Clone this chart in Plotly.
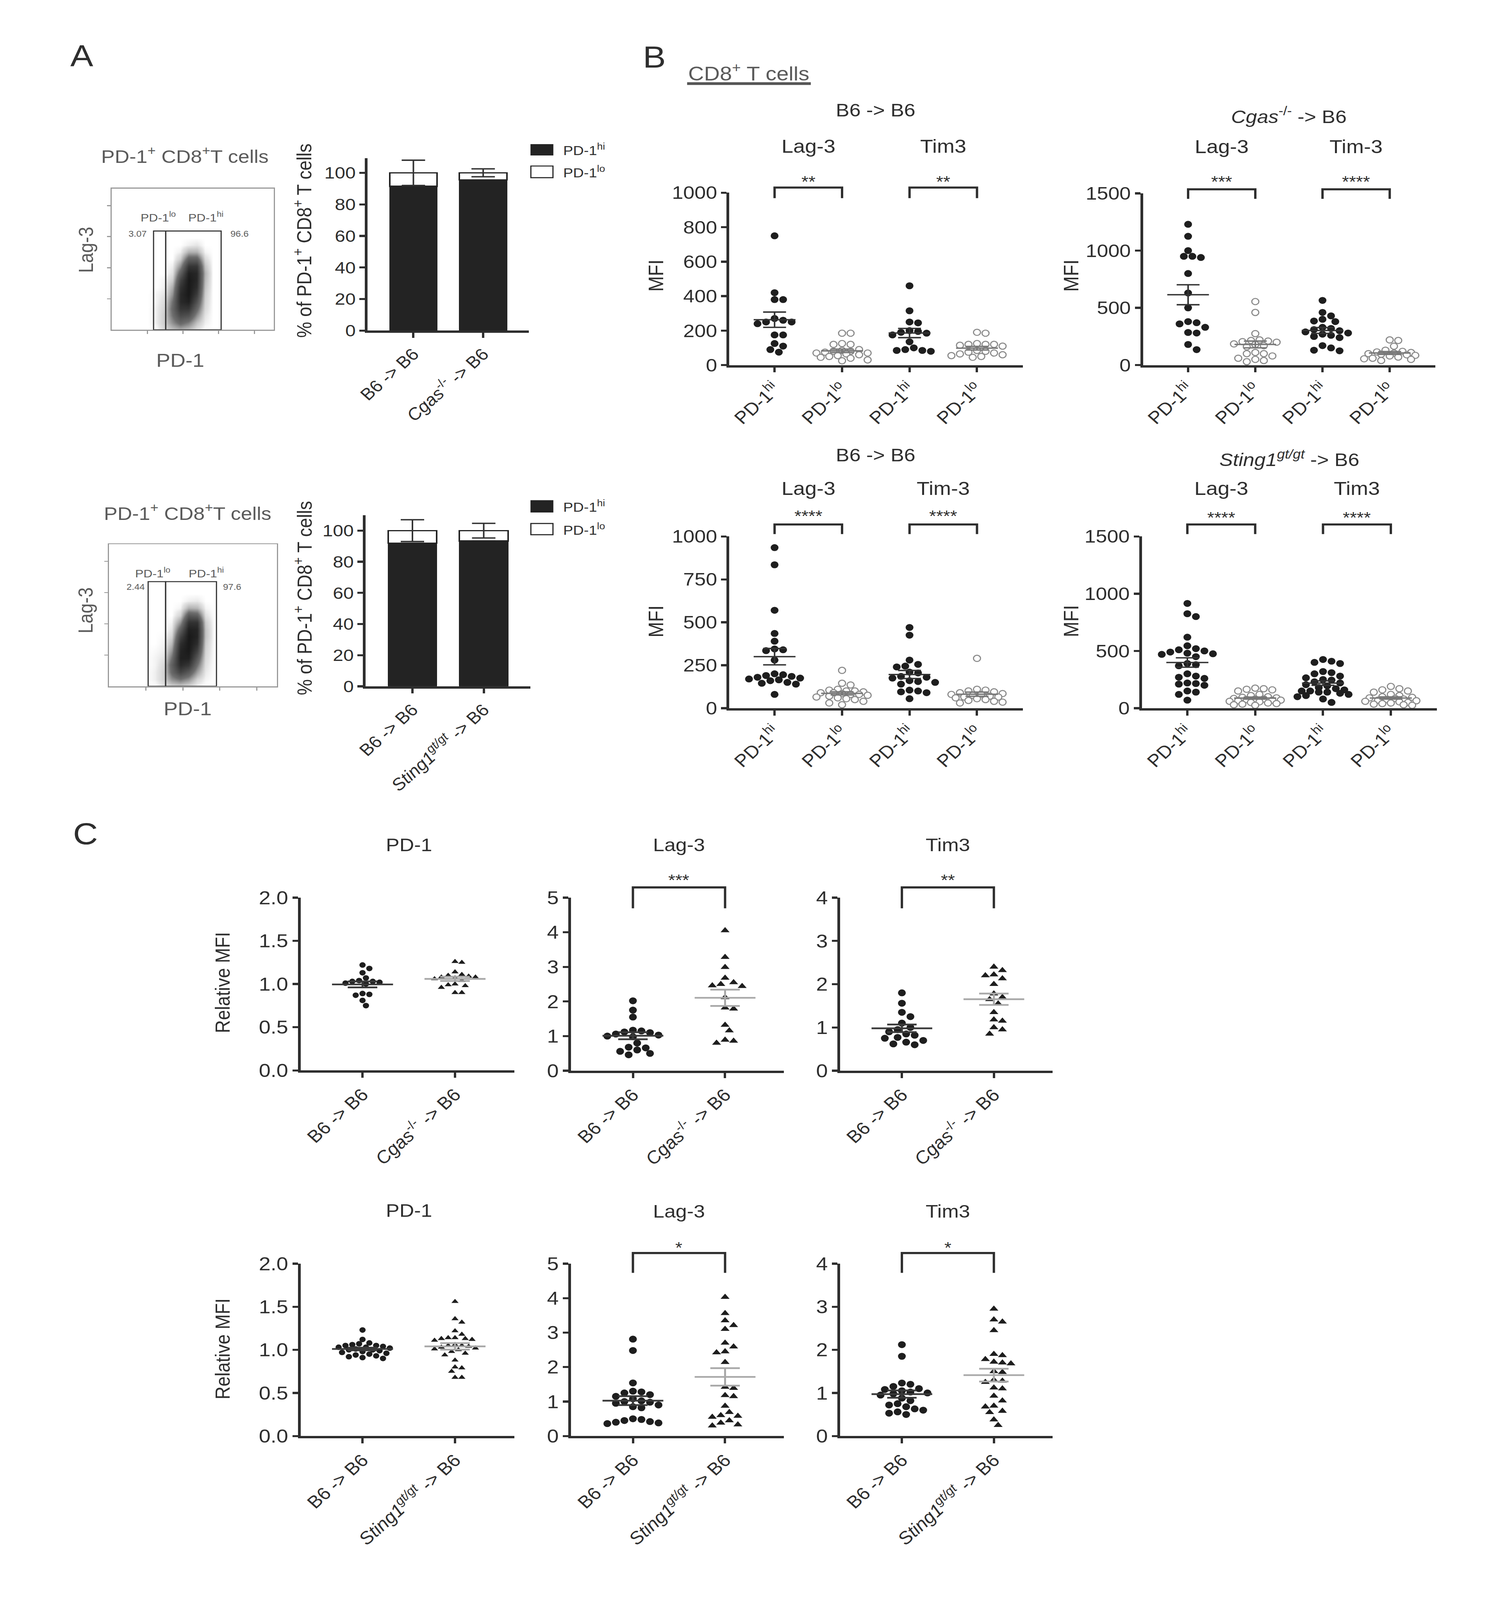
import numpy as np
import plotly.graph_objects as go

W, H = 3838, 4617
FONT = "Liberation Sans, Arial, Helvetica, sans-serif"
TXT = "#2e2e2e"
GTXT = "#5a5a5a"
LINE = "#2e2e2e"

# ------------------------------------------------------------------ data
# Panel A: stacked bars (% of PD-1+ CD8+ T cells)
a_top_groups = ["B6 -> B6", "<i>Cgas</i><sup>-/-</sup> -> B6"]
a_top_hi = [91.5, 95.5]
a_top_lo = [8.5, 4.5]
a_top_err = [8.0, 2.5]
a_bot_groups = ["B6 -> B6", "<i>Sting1</i><sup><i>gt/gt</i></sup> -> B6"]
a_bot_hi = [92.0, 93.3]
a_bot_lo = [8.0, 6.7]
a_bot_err = [7.0, 4.7]
a_ticks = [0, 20, 40, 60, 80, 100]

# Panel A: representative flow plots (density read by eye on a coarse grid)
flow_x = [0.225, 0.275, 0.325, 0.375, 0.425, 0.475, 0.525, 0.575, 0.625, 0.675]
flow_y = [0.0, 0.05, 0.10, 0.15, 0.20, 0.25, 0.30, 0.35, 0.40, 0.45, 0.50, 0.55, 0.60, 0.65]
flow1_density = [
    [0, 0.00, 0.08, 0.15, 0.20, 0.15, 0.05, 0.00, 0, 0],
    [0, 0.03, 0.12, 0.30, 0.45, 0.35, 0.15, 0.03, 0, 0],
    [0, 0.03, 0.12, 0.40, 0.65, 0.60, 0.30, 0.05, 0, 0],
    [0, 0.03, 0.10, 0.45, 0.80, 0.80, 0.45, 0.08, 0, 0],
    [0, 0.02, 0.08, 0.40, 0.88, 0.95, 0.60, 0.10, 0, 0],
    [0, 0.02, 0.05, 0.30, 0.88, 1.00, 0.75, 0.12, 0, 0],
    [0, 0.00, 0.03, 0.22, 0.82, 1.00, 0.85, 0.15, 0, 0],
    [0, 0.00, 0.02, 0.12, 0.70, 1.00, 0.90, 0.18, 0, 0],
    [0, 0.00, 0.00, 0.06, 0.50, 0.95, 0.90, 0.20, 0, 0],
    [0, 0.00, 0.00, 0.03, 0.30, 0.80, 0.80, 0.15, 0, 0],
    [0, 0.00, 0.00, 0.00, 0.12, 0.50, 0.50, 0.08, 0, 0],
    [0, 0.00, 0.00, 0.00, 0.03, 0.20, 0.20, 0.02, 0, 0],
    [0, 0.00, 0.00, 0.00, 0.00, 0.03, 0.05, 0.00, 0, 0],
    [0, 0, 0, 0, 0, 0, 0, 0, 0, 0],
]
flow2_density = [
    [0, 0.00, 0.05, 0.10, 0.12, 0.08, 0.02, 0.00, 0, 0],
    [0, 0.03, 0.10, 0.30, 0.40, 0.30, 0.10, 0.02, 0, 0],
    [0, 0.03, 0.10, 0.45, 0.70, 0.55, 0.25, 0.04, 0, 0],
    [0, 0.02, 0.08, 0.50, 0.88, 0.80, 0.40, 0.06, 0, 0],
    [0, 0.02, 0.05, 0.40, 0.95, 0.95, 0.55, 0.08, 0, 0],
    [0, 0.01, 0.03, 0.28, 0.92, 1.00, 0.72, 0.10, 0, 0],
    [0, 0.00, 0.02, 0.18, 0.85, 1.00, 0.85, 0.12, 0, 0],
    [0, 0.00, 0.01, 0.10, 0.70, 1.00, 0.92, 0.15, 0, 0],
    [0, 0.00, 0.00, 0.05, 0.50, 0.95, 0.92, 0.15, 0, 0],
    [0, 0.00, 0.00, 0.02, 0.28, 0.82, 0.82, 0.12, 0, 0],
    [0, 0.00, 0.00, 0.00, 0.10, 0.55, 0.50, 0.06, 0, 0],
    [0, 0.00, 0.00, 0.00, 0.02, 0.20, 0.18, 0.02, 0, 0],
    [0, 0.00, 0.00, 0.00, 0.00, 0.03, 0.04, 0.00, 0, 0],
    [0, 0, 0, 0, 0, 0, 0, 0, 0, 0],
]
flow1_gates = [0.258, 0.333, 0.675]
flow1_gate_top = 0.70
flow1_pct = ["3.07", "96.6"]
flow2_gates = [0.233, 0.337, 0.640]
flow2_gate_top = 0.737
flow2_pct = ["2.44", "97.6"]
flow_ticks = [0.22, 0.44, 0.66, 0.88]

# Panel B: MFI of Lag-3 / Tim-3 on PD-1hi vs PD-1lo CD8+ T cells
b_categories = ["PD-1<sup>hi</sup>", "PD-1<sup>lo</sup>", "PD-1<sup>hi</sup>", "PD-1<sup>lo</sup>"]
b1_lag_hi = [750, 420, 380, 380, 270, 260, 250, 250, 240, 175, 175, 125, 110, 90, 75]
b1_lag_lo = [185, 185, 125, 120, 120, 90, 85, 80, 80, 75, 70, 70, 65, 60, 55, 50, 45, 40, 30, 25]
b1_tim_hi = [460, 315, 250, 245, 200, 195, 190, 185, 175, 135, 100, 90, 85, 85, 80]
b1_tim_lo = [190, 185, 125, 120, 120, 120, 115, 110, 85, 80, 75, 70, 65, 60, 55, 50, 45]

b2_lag_hi = [1230, 1125, 1000, 950, 950, 940, 800, 630, 500, 380, 370, 360, 330, 285, 280, 180, 135]
b2_lag_lo = [555, 460, 275, 220, 215, 210, 205, 200, 185, 180, 170, 160, 110, 100, 100, 80, 60, 50, 40, 30]
b2_tim_hi = [565, 460, 430, 400, 385, 380, 330, 320, 310, 300, 290, 280, 270, 260, 250, 240, 170, 150, 130, 125]
b2_tim_lo = [220, 215, 165, 130, 120, 115, 110, 105, 100, 95, 90, 85, 80, 70, 60, 55, 50, 40]

b3_lag_hi = [935, 835, 570, 435, 390, 345, 340, 335, 280, 200, 195, 190, 185, 180, 175, 170, 165, 160, 150, 145, 140, 80]
b3_lag_lo = [220, 145, 135, 110, 105, 100, 100, 95, 90, 90, 85, 80, 80, 75, 70, 65, 60, 55, 50, 40, 30, 20]
b3_tim_hi = [470, 425, 280, 255, 245, 240, 210, 205, 185, 180, 175, 160, 155, 150, 140, 105, 100, 95, 90, 55]
b3_tim_lo = [290, 110, 105, 100, 95, 90, 85, 80, 80, 75, 70, 65, 65, 60, 55, 50, 45, 40, 35, 30]

b4_lag_hi = [915, 825, 800, 620, 545, 520, 510, 500, 490, 480, 475, 470, 450, 390, 380, 370, 300, 280,
             270, 260, 220, 215, 210, 200, 150, 140, 120, 70]
b4_lag_lo = [175, 170, 165, 160, 150, 120, 110, 100, 95, 90, 85, 80, 80, 75, 70, 70, 65, 60, 55, 50,
             45, 40, 35, 30, 25]
b4_tim_hi = [425, 410, 400, 390, 320, 310, 300, 280, 265, 250, 245, 230, 220, 205, 195, 180, 170, 160,
             150, 150, 140, 140, 130, 120, 110, 100, 80, 50]
b4_tim_lo = [190, 170, 160, 150, 140, 120, 110, 100, 95, 90, 85, 80, 75, 70, 65, 60, 55, 50, 45, 40, 35, 30, 25]

b_ticks_200 = [0, 200, 400, 600, 800, 1000]
b_ticks_250 = [0, 250, 500, 750, 1000]
b_ticks_500 = [0, 500, 1000, 1500]

# Panel C: relative MFI
c_top_groups = ["B6 -> B6", "<i>Cgas</i><sup>-/-</sup> -> B6"]
c_bot_groups = ["B6 -> B6", "<i>Sting1</i><sup><i>gt/gt</i></sup> -> B6"]
c1_pd1_b6 = [1.22, 1.18, 1.13, 1.07, 1.04, 1.03, 1.03, 1.02, 1.01, 1.0, 0.89, 0.88, 0.87, 0.81, 0.75]
c1_pd1_ko = [1.26, 1.25, 1.14, 1.11, 1.10, 1.09, 1.08, 1.08, 1.07, 1.06, 1.04, 1.0, 0.99, 0.98, 0.96, 0.9, 0.9]
c1_lag_b6 = [2.02, 1.75, 1.55, 1.17, 1.15, 1.12, 1.1, 1.06, 1.03, 1.0, 0.98, 0.8, 0.68, 0.66, 0.6, 0.56, 0.5, 0.46]
c1_lag_ko = [4.05, 3.28, 2.99, 2.68, 2.55, 2.46, 2.44, 2.5, 2.12, 1.79, 1.82, 1.32, 1.16, 0.89, 0.86, 0.8]
c1_tim_b6 = [1.8, 1.56, 1.35, 1.25, 1.1, 1.0, 0.95, 0.9, 0.85, 0.82, 0.77, 0.75, 0.7, 0.66, 0.62, 0.6]
c1_tim_ko = [2.4, 2.32, 2.22, 2.2, 2.13, 2.0, 1.78, 1.7, 1.65, 1.55, 1.35, 1.18, 1.15, 1.0, 0.95, 0.85]

c2_pd1_b6 = [1.23, 1.12, 1.08, 1.07, 1.06, 1.05, 1.05, 1.04, 1.03, 1.03, 1.02, 1.01, 1.0, 1.0, 0.99, 0.98,
             0.97, 0.96, 0.95, 0.94, 0.93, 0.92, 0.91, 0.9]
c2_pd1_ko = [1.56, 1.36, 1.32, 1.22, 1.18, 1.14, 1.14, 1.13, 1.13, 1.12, 1.11, 1.06, 1.05, 1.05, 1.04, 1.03,
             1.02, 1.01, 1.0, 0.98, 0.96, 0.94, 0.88, 0.8, 0.79, 0.75, 0.68, 0.68]
c2_lag_b6 = [2.81, 2.48, 1.54, 1.3, 1.28, 1.25, 1.2, 1.15, 1.08, 1.02, 1.0, 0.98, 0.95, 0.9, 0.85, 0.82,
             0.5, 0.48, 0.45, 0.42, 0.4, 0.38, 0.36]
c2_lag_ko = [4.03, 3.56, 3.35, 3.21, 3.1, 2.7, 2.59, 2.45, 2.42, 2.14, 1.42, 1.39, 1.18, 1.15, 0.87, 0.69,
             0.6, 0.58, 0.55, 0.45, 0.38, 0.33, 0.3]
c2_tim_b6 = [2.12, 1.85, 1.23, 1.2, 1.15, 1.1, 1.08, 1.05, 1.02, 1.0, 0.98, 0.95, 0.88, 0.82, 0.75, 0.72,
             0.68, 0.63, 0.6, 0.56, 0.53, 0.5]
c2_tim_ko = [2.95, 2.7, 2.65, 2.45, 1.9, 1.87, 1.78, 1.72, 1.7, 1.68, 1.5, 1.48, 1.3, 1.28, 1.25, 1.12,
             1.1, 0.93, 0.82, 0.7, 0.68, 0.58, 0.55, 0.38, 0.25]

c_ticks_pd1 = [0, 0.5, 1.0, 1.5, 2.0]
c_ticks_pd1_text = ["0.0", "0.5", "1.0", "1.5", "2.0"]
c_ticks_5 = [0, 1, 2, 3, 4, 5]
c_ticks_4 = [0, 1, 2, 3, 4]

# ------------------------------------------------------------------ helpers
fig = go.Figure()
layout = dict(width=W, height=H, margin=dict(l=0, r=0, t=0, b=0), paper_bgcolor="white",
              plot_bgcolor="rgba(0,0,0,0)", showlegend=False, barmode="stack",
              font=dict(family=FONT, color=TXT))
annotations = []
shapes = []


def px(x):
    return x / W


def py(y):
    return 1 - y / H


def refs(i):
    return ("x" if i == 1 else f"x{i}"), ("y" if i == 1 else f"y{i}")


def keys(i):
    return ("xaxis" if i == 1 else f"xaxis{i}"), ("yaxis" if i == 1 else f"yaxis{i}")


AX = dict(showline=True, linecolor=LINE, linewidth=7, ticks="outside", ticklen=14, tickwidth=6,
          tickcolor=LINE, showgrid=False, zeroline=False, fixedrange=True)


def make_axes(i, x0, x1, ytop, ybot, xr, yr, xvals, xtext, yvals, ytext, xsize=50, ysize=52):
    xk, yk = keys(i)
    xa, ya = refs(i)
    layout[xk] = dict(AX, domain=[px(x0), px(x1)], range=xr, anchor=ya, tickmode="array",
                      tickvals=xvals, ticktext=xtext, tickangle=-45,
                      tickfont=dict(size=xsize, color=TXT, family=FONT))
    layout[yk] = dict(AX, domain=[py(ybot), py(ytop)], range=yr, anchor=xa, tickmode="array",
                      tickvals=yvals, ticktext=ytext,
                      tickfont=dict(size=ysize, color=TXT, family=FONT))


def ann(text, x, y, size, xref="paper", yref="paper", angle=0, xanchor="center",
        yanchor="middle", color=TXT):
    annotations.append(dict(text=text, x=x, y=y, xref=xref, yref=yref, showarrow=False,
                            textangle=angle, xanchor=xanchor, yanchor=yanchor,
                            font=dict(size=size, color=color, family=FONT)))


def swarm(vals, center, pxx, pxy, diam, maxw):
    v = np.asarray(vals, float)
    order = np.argsort(-v, kind="stable")
    placed = []
    xs = np.empty(len(v))
    step = diam * 0.55
    cands = [0.0]
    for k in range(1, 60):
        cands += [k * step, -k * step]
    cands = [c for c in cands if abs(c) <= maxw]
    for i in order:
        yp = v[i] * pxy
        chosen = None
        for c in cands:
            if all((c - a) ** 2 + (yp - b) ** 2 >= (0.95 * diam) ** 2 for a, b in placed):
                chosen = c
                break
        if chosen is None:
            chosen = max(cands, key=lambda c: min((c - a) ** 2 + (yp - b) ** 2 for a, b in placed))
        placed.append((chosen, yp))
        xs[i] = center + chosen / pxx
    return xs


def mean_sem(vals, c, hm, hs):
    v = np.asarray(vals, float)
    m = v.mean()
    s = v.std(ddof=1) / np.sqrt(len(v))
    xs = [c - hm, c + hm, None, c - hs, c + hs, None, c - hs, c + hs, None, c, c]
    ys = [m, m, None, m + s, m + s, None, m - s, m - s, None, m - s, m + s]
    return xs, ys


def bracket(xref, a, b, y_bar, y_leg):
    shapes.append(dict(type="path", xref=xref, yref="paper",
                       path=f"M {a},{py(y_leg)} L {a},{py(y_bar)} L {b},{py(y_bar)} L {b},{py(y_leg)}",
                       line=dict(color=LINE, width=6)))


# ------------------------------------------------------------------ panel A
ann("A", px(183), py(133), 88)

flows = [
    dict(i=1, x0=260, x1=678, ytop=521, ybot=934, dens=flow1_density, gates=flow1_gates,
         top=flow1_gate_top, pct=flow1_pct, title=(449, 423), lag=(193, 700), pd1=(437, 1023),
         lab_x=(0.287, 0.58), pct_x=(0.16, 0.79), pct_y=0.68),
    dict(i=3, x0=253, x1=686, ytop=1561, ybot=1976, dens=flow2_density, gates=flow2_gates,
         top=flow2_gate_top, pct=flow2_pct, title=(456, 1467), lag=(193, 1754), pd1=(456, 2042),
         lab_x=(0.26, 0.58), pct_x=(0.16, 0.734), pct_y=0.70),
]
FAX = dict(showline=True, mirror=True, linecolor="#9a9a9a", linewidth=3, ticks="outside", ticklen=9,
           tickwidth=3, tickcolor="#9a9a9a", showgrid=False, zeroline=False, showticklabels=False,
           fixedrange=True, tickmode="array", tickvals=flow_ticks)
for f in flows:
    xk, yk = keys(f["i"])
    xa, ya = refs(f["i"])
    layout[xk] = dict(FAX, domain=[px(f["x0"]), px(f["x1"])], range=[0, 1], anchor=ya)
    layout[yk] = dict(FAX, domain=[py(f["ybot"]), py(f["ytop"])], range=[0, 1], anchor=xa)
    fig.add_trace(go.Heatmap(x=flow_x, y=flow_y, z=f["dens"], xaxis=xa, yaxis=ya, zmin=0, zmax=1,
                             zsmooth="best", showscale=False, hoverinfo="skip",
                             colorscale=[[0, "white"], [0.05, "rgb(228,228,228)"],
                                         [0.4, "rgb(110,110,110)"], [1, "rgb(25,25,25)"]]))
    g = f["gates"]
    for a, b in ((g[0], g[1]), (g[1], g[2])):
        shapes.append(dict(type="rect", xref=xa, yref=ya, x0=a, x1=b, y0=0, y1=f["top"],
                           line=dict(color="#333", width=3)))
    ann("PD-1<sup>lo</sup>", f["lab_x"][0], 0.80, 32, xref=xa, yref=ya, color=GTXT)
    ann("PD-1<sup>hi</sup>", f["lab_x"][1], 0.80, 32, xref=xa, yref=ya, color=GTXT)
    ann(f["pct"][0], f["pct_x"][0], f["pct_y"], 24, xref=xa, yref=ya, color=GTXT)
    ann(f["pct"][1], f["pct_x"][1], f["pct_y"], 24, xref=xa, yref=ya, color=GTXT)
    ann("PD-1<sup>+</sup> CD8<sup>+</sup>T cells", px(f["title"][0]), py(f["title"][1]), 52, color=GTXT)
    ann("Lag-3", px(f["lag"][0]), py(f["lag"][1]), 52, angle=-90, color=GTXT)
    ann("PD-1", px(f["pd1"][0]), py(f["pd1"][1]), 54, color=GTXT)

bars = [
    dict(i=2, x0=920, x1=1336, ytop=432, ybot=936, ymax=109.3, groups=a_top_groups, hi=a_top_hi,
         lo=a_top_lo, err=a_top_err, ytitle=(753, 673), leg=(392, 423, 455, 489)),
    dict(i=4, x0=915, x1=1340, ytop=1476, ybot=1976, ymax=109.9, groups=a_bot_groups, hi=a_bot_hi,
         lo=a_bot_lo, err=a_bot_err, ytitle=(753, 1718), leg=(1433, 1467, 1500, 1533)),
]
for bdef in bars:
    xa, ya = refs(bdef["i"])
    make_axes(bdef["i"], bdef["x0"], bdef["x1"], bdef["ytop"], bdef["ybot"], [-0.656, 1.656],
              [0, bdef["ymax"]], [0, 1], bdef["groups"], a_ticks, [str(t) for t in a_ticks],
              xsize=48, ysize=48)
    fig.add_trace(go.Bar(x=[0, 1], y=bdef["hi"], width=0.68, xaxis=xa, yaxis=ya, hoverinfo="skip",
                         marker=dict(color="#232323", line=dict(color="#232323", width=2))))
    fig.add_trace(go.Bar(x=[0, 1], y=bdef["lo"], width=0.68, xaxis=xa, yaxis=ya, hoverinfo="skip",
                         marker=dict(color="white", line=dict(color="#232323", width=4))))
    fig.add_trace(go.Scatter(x=[0, 1], y=list(np.add(bdef["hi"], bdef["lo"])), mode="markers",
                             xaxis=xa, yaxis=ya, cliponaxis=False, hoverinfo="skip",
                             marker=dict(size=1, color="rgba(0,0,0,0)"),
                             error_y=dict(type="data", array=bdef["err"], color="#333",
                                          thickness=4, width=30)))
    ann("% of PD-1<sup>+</sup> CD8<sup>+</sup> T cells", px(bdef["ytitle"][0]), py(bdef["ytitle"][1]),
        52, angle=-90)
    l = bdef["leg"]
    shapes.append(dict(type="rect", xref="paper", yref="paper", x0=px(1341), x1=px(1398),
                       y0=py(l[1]), y1=py(l[0]), fillcolor="#232323", line=dict(color="#232323", width=2)))
    shapes.append(dict(type="rect", xref="paper", yref="paper", x0=px(1341), x1=px(1398),
                       y0=py(l[3]), y1=py(l[2]), fillcolor="white", line=dict(color="#232323", width=3)))
    ann("PD-1<sup>hi</sup>", px(1422), py((l[0] + l[1]) / 2), 38, xanchor="left")
    ann("PD-1<sup>lo</sup>", px(1422), py((l[2] + l[3]) / 2), 38, xanchor="left")

# ------------------------------------------------------------------ panel B
ann("B", px(1660), py(136), 88)
ann("CD8<sup>+</sup> T cells", px(1903), py(182), 56, color=GTXT)
shapes.append(dict(type="line", xref="paper", yref="paper", x0=px(1744), x1=px(2063), y0=py(214),
                   y1=py(214), line=dict(color="#555", width=8)))

b_panels = [
    dict(i=5, x0=1853, x1=2610, ytop=533, ybot=1037, ymax=1000, ticks=b_ticks_200,
         groups=[b1_lag_hi, b1_lag_lo, b1_tim_hi, b1_tim_lo], title="B6 -> B6", t_py=292,
         subs=["Lag-3", "Tim3"], s_py=397, stars=["**", "**"], st_py=500, br=518, lg=549, mfi=(1663, 775)),
    dict(i=6, x0=2920, x1=3674, ytop=535, ybot=1037, ymax=1500, ticks=b_ticks_500,
         groups=[b2_lag_hi, b2_lag_lo, b2_tim_hi, b2_tim_lo], title="<i>Cgas</i><sup>-/-</sup> -> B6",
         t_py=307, subs=["Lag-3", "Tim-3"], s_py=398, stars=["***", "****"], st_py=500, br=523, lg=551,
         mfi=(2734, 776)),
    dict(i=7, x0=1853, x1=2610, ytop=1538, ybot=2040, ymax=1000, ticks=b_ticks_250,
         groups=[b3_lag_hi, b3_lag_lo, b3_tim_hi, b3_tim_lo], title="B6 -> B6", t_py=1300,
         subs=["Lag-3", "Tim-3"], s_py=1397, stars=["****", "****"], st_py=1478, br=1503, lg=1531,
         mfi=(1663, 1786)),
    dict(i=8, x0=2917, x1=3678, ytop=1538, ybot=2040, ymax=1500, ticks=b_ticks_500,
         groups=[b4_lag_hi, b4_lag_lo, b4_tim_hi, b4_tim_lo],
         title="<i>Sting1</i><sup><i>gt/gt</i></sup> -> B6", t_py=1310, subs=["Lag-3", "Tim3"],
         s_py=1397, stars=["****", "****"], st_py=1482, br=1503, lg=1531, mfi=(2734, 1786)),
]
B_XR = [-0.67, 3.68]
BMS = 20
for p in b_panels:
    xa, ya = refs(p["i"])
    make_axes(p["i"], p["x0"], p["x1"], p["ytop"], p["ybot"], B_XR, [0, p["ymax"]], [0, 1, 2, 3],
              b_categories, p["ticks"], [str(t) for t in p["ticks"]])
    pxx = (p["x1"] - p["x0"]) / (B_XR[1] - B_XR[0])
    pxy = (p["ybot"] - p["ytop"]) / p["ymax"]
    for gi, vals in enumerate(p["groups"]):
        xs = swarm(vals, gi, pxx, pxy, BMS, 0.42 * pxx)
        if gi % 2 == 0:
            mk = dict(size=BMS, color="#1e1e1e", line=dict(width=0))
        else:
            mk = dict(size=BMS - 2, color="white", line=dict(color="#8a8a8a", width=3))
        fig.add_trace(go.Scatter(x=xs, y=vals, mode="markers", marker=mk, xaxis=xa, yaxis=ya,
                                 cliponaxis=False, hoverinfo="skip"))
    for gi, vals in enumerate(p["groups"]):
        mx, my = mean_sem(vals, gi, 0.31, 0.17)
        fig.add_trace(go.Scatter(x=mx, y=my, mode="lines", xaxis=xa, yaxis=ya, cliponaxis=False,
                                 hoverinfo="skip",
                                 line=dict(color="#333" if gi % 2 == 0 else "#777", width=4)))
    ann(p["title"], 1.5, py(p["t_py"]), 52, xref=xa)
    ann(p["subs"][0], 0.5, py(p["s_py"]), 54, xref=xa)
    ann(p["subs"][1], 2.5, py(p["s_py"]), 54, xref=xa)
    ann(p["stars"][0], 0.5, py(p["st_py"]), 46, xref=xa)
    ann(p["stars"][1], 2.5, py(p["st_py"]), 46, xref=xa)
    bracket(xa, 0, 1, p["br"], p["lg"])
    bracket(xa, 2, 3, p["br"], p["lg"])
    ann("MFI", px(p["mfi"][0]), py(p["mfi"][1]), 54, angle=-90)

# ------------------------------------------------------------------ panel C
ann("C", px(192), py(2407), 88)
c_panels = [
    dict(i=9, x0=747, x1=1298, ytop=2594, ybot=3099, ymax=2.0, ticks=c_ticks_pd1, ttext=c_ticks_pd1_text,
         groups=[c1_pd1_b6, c1_pd1_ko], cats=c_top_groups, title="PD-1", t_py=2440, star=None, ms=16),
    dict(i=10, x0=1445, x1=1994, ytop=2594, ybot=3100, ymax=5, ticks=c_ticks_5,
         ttext=[str(t) for t in c_ticks_5], groups=[c1_lag_b6, c1_lag_ko], cats=c_top_groups,
         title="Lag-3", t_py=2440, star="***", st_py=2542, br=2564, lg=2625, ms=20),
    dict(i=11, x0=2139, x1=2687, ytop=2594, ybot=3100, ymax=4, ticks=c_ticks_4,
         ttext=[str(t) for t in c_ticks_4], groups=[c1_tim_b6, c1_tim_ko], cats=c_top_groups,
         title="Tim3", t_py=2440, star="**", st_py=2542, br=2564, lg=2625, ms=20),
    dict(i=12, x0=747, x1=1298, ytop=3664, ybot=4168, ymax=2.0, ticks=c_ticks_pd1, ttext=c_ticks_pd1_text,
         groups=[c2_pd1_b6, c2_pd1_ko], cats=c_bot_groups, title="PD-1", t_py=3509, star=None, ms=16),
    dict(i=13, x0=1445, x1=1994, ytop=3664, ybot=4168, ymax=5, ticks=c_ticks_5,
         ttext=[str(t) for t in c_ticks_5], groups=[c2_lag_b6, c2_lag_ko], cats=c_bot_groups,
         title="Lag-3", t_py=3511, star="*", st_py=3617, br=3633, lg=3691, ms=20),
    dict(i=14, x0=2139, x1=2687, ytop=3664, ybot=4168, ymax=4, ticks=c_ticks_4,
         ttext=[str(t) for t in c_ticks_4], groups=[c2_tim_b6, c2_tim_ko], cats=c_bot_groups,
         title="Tim3", t_py=3511, star="*", st_py=3617, br=3633, lg=3691, ms=20),
]
C_XR = [-0.67, 1.64]
for p in c_panels:
    xa, ya = refs(p["i"])
    make_axes(p["i"], p["x0"], p["x1"], p["ytop"], p["ybot"], C_XR, [0, p["ymax"]], [0, 1], p["cats"],
              p["ticks"], p["ttext"], xsize=50, ysize=54)
    pxx = (p["x1"] - p["x0"]) / (C_XR[1] - C_XR[0])
    pxy = (p["ybot"] - p["ytop"]) / p["ymax"]
    for gi, vals in enumerate(p["groups"]):
        xs = swarm(vals, gi, pxx, pxy, p["ms"], 0.42 * pxx)
        sym = "circle" if gi == 0 else "triangle-up"
        fig.add_trace(go.Scatter(x=xs, y=vals, mode="markers", xaxis=xa, yaxis=ya, cliponaxis=False,
                                 hoverinfo="skip",
                                 marker=dict(size=p["ms"], symbol=sym, color="#1e1e1e", line=dict(width=0))))
    for gi, vals in enumerate(p["groups"]):
        mx, my = mean_sem(vals, gi, 0.33, 0.16)
        fig.add_trace(go.Scatter(x=mx, y=my, mode="lines", xaxis=xa, yaxis=ya, cliponaxis=False,
                                 hoverinfo="skip",
                                 line=dict(color="#3a3a3a" if gi == 0 else "#a8a8a8", width=5)))
    ann(p["title"], 0.5, py(p["t_py"]), 52, xref=xa)
    if p["star"]:
        ann(p["star"], 0.5, py(p["st_py"]), 46, xref=xa)
        bracket(xa, 0, 1, p["br"], p["lg"])
ann("Relative MFI", px(546), py(2842), 52, angle=-90)
ann("Relative MFI", px(546), py(3913), 52, angle=-90)

layout["annotations"] = annotations
layout["shapes"] = shapes
fig.update_layout(**layout)

# make the whole figure fit the actual browser viewport (no page margin, no scrolling)
fit_js = """
(function(){
  var gd = document.getElementById('{plot_id}');
  document.documentElement.style.margin = '0';
  document.body.style.margin = '0';
  document.documentElement.style.overflow = 'hidden';
  document.body.style.overflow = 'hidden';
  var vw = window.innerWidth, vh = window.innerHeight;
  if (vw > 0 && vh > 0 && (Math.abs(vw - FIGW) > 2 || Math.abs(vh - FIGH) > 2)) {
    gd.style.transformOrigin = '0 0';
    gd.style.transform = 'scale(' + (vw / FIGW) + ',' + (vh / FIGH) + ')';
  }
})();
""".replace("FIGW", str(W)).replace("FIGH", str(H))
fig.write_html("out.html", post_script=fit_js, config={"displayModeBar": False})
